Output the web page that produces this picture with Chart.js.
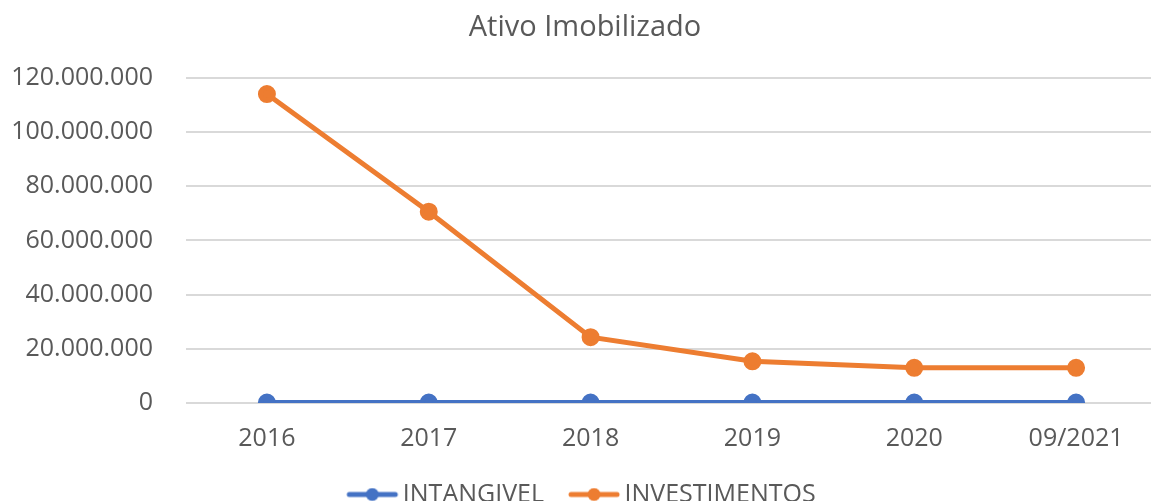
<!DOCTYPE html>
<html lang="pt">
<head>
<meta charset="UTF-8">
<title>Ativo Imobilizado</title>
<script src="https://cdn.jsdelivr.net/npm/chart.js@4.4.1/dist/chart.umd.min.js"></script>
<style>
  html, body { margin: 0; padding: 0; background: #fff; overflow: hidden; }
  #wrap { width: 1188px; height: 517px; position: relative; }
</style>
</head>
<body>
<div id="wrap"><canvas id="chart"></canvas></div>
<script>
// dados
const categorias = ['2016', '2017', '2018', '2019', '2020', '09/2021'];
const intangivel = [150000, 150000, 150000, 150000, 150000, 150000];
const investimentos = [114000000, 70600000, 24300000, 15400000, 13000000, 13000000];
const yTicks = [0, 20000000, 40000000, 60000000, 80000000, 100000000, 120000000];

const AZUL = '#4472C4';
const LARANJA = '#ED7D31';
const TEXTO = '#595959';

function fmt(v) {
  return String(v).replace(/\B(?=(\d{3})+(?!\d))/g, '.');
}

// marcador da legenda: linha com bolinha
function marcador(cor) {
  const c = document.createElement('canvas');
  c.width = 56; c.height = 14;
  const g = c.getContext('2d');
  g.strokeStyle = cor; g.lineWidth = 5; g.lineCap = 'round';
  g.beginPath(); g.moveTo(5, 7); g.lineTo(51, 7); g.stroke();
  g.fillStyle = cor;
  g.beginPath(); g.arc(28, 7, 6.5, 0, Math.PI * 2); g.fill();
  return c;
}

Chart.defaults.font.family = '"Open Sans", sans-serif';
Chart.defaults.color = TEXTO;

new Chart(document.getElementById('chart'), {
  type: 'line',
  data: {
    labels: categorias,
    datasets: [
      {
        label: 'INTANGIVEL',
        data: intangivel,
        borderColor: AZUL,
        backgroundColor: AZUL,
        borderWidth: 5,
        pointRadius: 6.5,
        pointHoverRadius: 6.5,
        tension: 0
      },
      {
        label: 'INVESTIMENTOS',
        data: investimentos,
        borderColor: LARANJA,
        backgroundColor: LARANJA,
        borderWidth: 5,
        pointRadius: 6.5,
        pointHoverRadius: 6.5,
        tension: 0
      }
    ]
  },
  options: {
    responsive: true,
    maintainAspectRatio: false,
    animation: false,
    layout: { padding: { left: 13, right: 31, top: 10, bottom: 0 } },
    plugins: {
      title: {
        display: true,
        text: 'Ativo Imobilizado',
        font: { size: 29, weight: 'normal', lineHeight: 1.2 },
        color: TEXTO,
        padding: { top: 0, bottom: 33 }
      },
      legend: {
        position: 'bottom',
        labels: {
          usePointStyle: true,
          pointStyleWidth: 36,
          font: { size: 25 },
          color: TEXTO,
          padding: 32,
          generateLabels(chart) {
            return chart.data.datasets.map((ds, i) => ({
              text: ds.label,
              pointStyle: marcador(ds.borderColor),
              fillStyle: ds.borderColor,
              strokeStyle: ds.borderColor,
              lineWidth: 0,
              fontColor: TEXTO,
              datasetIndex: i,
              hidden: false
            }));
          }
        }
      },
      tooltip: { enabled: false }
    },
    scales: {
      x: {
        offset: true,
        grid: { display: false, drawTicks: false },
        border: { display: false },
        ticks: { font: { size: 25 }, color: TEXTO, padding: 21 },
        afterFit(axis) { axis.height = 47; }
      },
      y: {
        min: 0,
        max: 120000000,
        afterBuildTicks(axis) { axis.ticks = yTicks.map(v => ({ value: v })); },
        afterFit(axis) { axis.width = 173; },
        grid: { color: '#D9D9D9', lineWidth: 2, drawTicks: false },
        border: { display: false },
        ticks: {
          font: { size: 25 },
          color: TEXTO,
          padding: 33,
          callback: v => fmt(v)
        }
      }
    }
  }
});
</script>
</body>
</html>
